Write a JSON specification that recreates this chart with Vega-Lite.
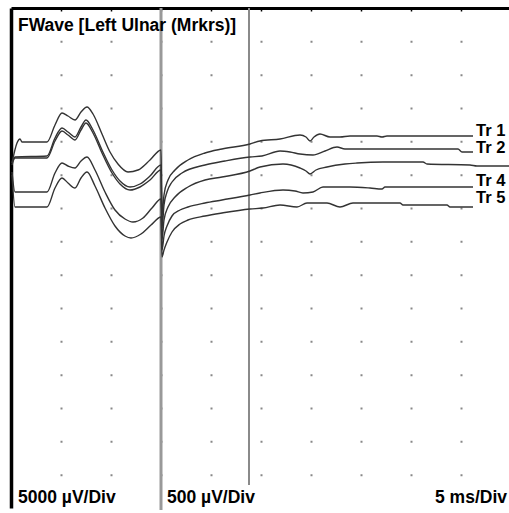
{
  "$schema": "https://vega.github.io/schema/vega-lite/v6.json",
  "width": 498,
  "height": 500,
  "autosize": {"type": "none"},
  "padding": {"left": 11, "top": 8, "right": 0, "bottom": 5},
  "background": "white",
  "config": {"view": {"stroke": null}},
  "layer": [
    {
      "data": {"values": [{"ms": 15.0, "y1": 0, "y2": 15.06}]},
      "mark": {"type": "rule", "stroke": "#999999", "strokeWidth": 3},
      "encoding": {
        "x": {
          "field": "ms", "type": "quantitative", "title": null,
          "scale": {"domain": [0, 49.8], "nice": false, "zero": false},
          "axis": {
            "orient": "top", "values": [5, 10, 15, 20, 25, 30, 35, 40, 45],
            "labels": false, "title": null,
            "domain": true, "domainColor": "#000000", "domainWidth": 3,
            "ticks": true, "tickSize": -3, "tickColor": "#000000", "tickWidth": 1.5,
            "grid": true, "gridColor": "#888888", "gridWidth": 2,
            "gridDash": [1, 31.333, 2, 31.333, 2, 31.333, 2, 31.333, 2, 31.333, 2, 31.333, 2, 31.333, 2, 31.333, 2, 31.333, 2, 31.333, 2, 31.333, 2, 31.333, 2, 31.333, 2, 31.333, 2, 100]
          }
        },
        "y": {
          "field": "y1", "type": "quantitative", "title": null,
          "scale": {"domain": [0, 15], "reverse": true, "nice": false, "zero": false},
          "axis": {
            "orient": "left", "labels": false, "title": null, "ticks": false, "grid": false,
            "domain": true, "domainColor": "#000000", "domainWidth": 3.5
          }
        },
        "y2": {"field": "y2"}
      }
    },
    {
      "data": {"values": [{"ms": 23.8, "y1": 0, "y2": 14.31}]},
      "mark": {"type": "rule", "stroke": "#8a8a8a", "strokeWidth": 2},
      "encoding": {
        "x": {"field": "ms", "type": "quantitative", "title": null},
        "y": {"field": "y1", "type": "quantitative", "title": null},
        "y2": {"field": "y2"}
      }
    },
    {
      "data": {"values": [
        {"trace":"A","ms":0.1,"div":4.65},{"trace":"A","ms":0.6,"div":4.05},{"trace":"A","ms":0.9,"div":3.93},{"trace":"A","ms":1.1,"div":4.02},{"trace":"A","ms":3.6,"div":4.02},{"trace":"A","ms":4.4,"div":3.51},{"trace":"A","ms":5.1,"div":3.15},{"trace":"A","ms":5.7,"div":3.24},{"trace":"A","ms":6.4,"div":3.36},{"trace":"A","ms":7.0,"div":3.12},{"trace":"A","ms":7.6,"div":2.97},{"trace":"A","ms":8.2,"div":3.18},{"trace":"A","ms":9.1,"div":3.78},{"trace":"A","ms":9.9,"div":4.32},{"trace":"A","ms":10.7,"div":4.68},{"trace":"A","ms":11.7,"div":4.92},{"trace":"A","ms":12.7,"div":4.86},{"trace":"A","ms":13.9,"div":4.56},{"trace":"A","ms":15.0,"div":4.26},
        {"trace":"A","ms":15.1,"div":6.21},{"trace":"A","ms":15.3,"div":5.61},{"trace":"A","ms":15.7,"div":5.16},{"trace":"A","ms":16.4,"div":4.86},{"trace":"A","ms":17.7,"div":4.56},{"trace":"A","ms":19.4,"div":4.35},{"trace":"A","ms":21.1,"div":4.23},{"trace":"A","ms":23.9,"div":4.08},
        {"trace":"A","ms":24.9,"div":3.99},{"trace":"A","ms":26.9,"div":3.93},{"trace":"A","ms":28.9,"div":3.81},{"trace":"A","ms":29.5,"div":3.87},{"trace":"A","ms":29.9,"div":3.99},{"trace":"A","ms":30.3,"div":3.87},{"trace":"A","ms":30.9,"div":3.78},{"trace":"A","ms":31.9,"div":3.87},{"trace":"A","ms":32.9,"div":3.87},{"trace":"A","ms":33.9,"div":3.84},{"trace":"A","ms":35.6,"div":3.84},{"trace":"A","ms":36.6,"div":3.84},{"trace":"A","ms":37.1,"div":3.87},{"trace":"A","ms":37.6,"div":3.84},{"trace":"A","ms":46.2,"div":3.84},

        {"trace":"B","ms":0.1,"div":4.65},{"trace":"B","ms":0.4,"div":4.47},{"trace":"B","ms":3.6,"div":4.44},{"trace":"B","ms":4.4,"div":3.90},{"trace":"B","ms":5.1,"div":3.60},{"trace":"B","ms":5.7,"div":3.72},{"trace":"B","ms":6.4,"div":3.87},{"trace":"B","ms":7.0,"div":3.57},{"trace":"B","ms":7.5,"div":3.36},{"trace":"B","ms":8.2,"div":3.66},{"trace":"B","ms":9.1,"div":4.26},{"trace":"B","ms":10.1,"div":4.86},{"trace":"B","ms":10.9,"div":5.19},{"trace":"B","ms":11.9,"div":5.37},{"trace":"B","ms":12.9,"div":5.28},{"trace":"B","ms":13.9,"div":5.04},{"trace":"B","ms":15.0,"div":4.71},
        {"trace":"B","ms":15.1,"div":6.60},{"trace":"B","ms":15.3,"div":5.91},{"trace":"B","ms":15.6,"div":5.52},{"trace":"B","ms":16.1,"div":5.22},{"trace":"B","ms":17.1,"div":4.95},{"trace":"B","ms":19.4,"div":4.71},{"trace":"B","ms":21.4,"div":4.59},{"trace":"B","ms":23.9,"div":4.47},
        {"trace":"B","ms":25.1,"div":4.44},{"trace":"B","ms":26.9,"div":4.29},{"trace":"B","ms":27.9,"div":4.32},{"trace":"B","ms":28.9,"div":4.38},{"trace":"B","ms":30.2,"div":4.41},{"trace":"B","ms":31.4,"div":4.29},{"trace":"B","ms":32.6,"div":4.17},{"trace":"B","ms":33.4,"div":4.23},{"trace":"B","ms":36.9,"div":4.23},{"trace":"B","ms":44.7,"div":4.23},{"trace":"B","ms":45.1,"div":4.32},{"trace":"B","ms":46.2,"div":4.32},

        {"trace":"C","ms":0.1,"div":4.71},{"trace":"C","ms":0.4,"div":4.50},{"trace":"C","ms":3.6,"div":4.50},{"trace":"C","ms":4.4,"div":3.99},{"trace":"C","ms":5.1,"div":3.69},{"trace":"C","ms":5.7,"div":3.81},{"trace":"C","ms":6.4,"div":3.96},{"trace":"C","ms":7.0,"div":3.66},{"trace":"C","ms":7.5,"div":3.45},{"trace":"C","ms":8.2,"div":3.75},{"trace":"C","ms":9.1,"div":4.35},{"trace":"C","ms":10.1,"div":4.95},{"trace":"C","ms":10.9,"div":5.28},{"trace":"C","ms":11.9,"div":5.46},{"trace":"C","ms":12.9,"div":5.37},{"trace":"C","ms":13.9,"div":5.16},{"trace":"C","ms":15.0,"div":4.86},
        {"trace":"C","ms":15.1,"div":6.96},{"trace":"C","ms":15.3,"div":6.36},{"trace":"C","ms":15.7,"div":5.97},{"trace":"C","ms":16.4,"div":5.67},{"trace":"C","ms":17.7,"div":5.37},{"trace":"C","ms":19.4,"div":5.16},{"trace":"C","ms":21.1,"div":5.07},{"trace":"C","ms":23.9,"div":4.89},
        {"trace":"C","ms":24.9,"div":4.77},{"trace":"C","ms":27.2,"div":4.68},{"trace":"C","ms":28.9,"div":4.80},{"trace":"C","ms":29.5,"div":4.89},{"trace":"C","ms":29.9,"div":4.98},{"trace":"C","ms":30.5,"div":4.86},{"trace":"C","ms":31.6,"div":4.77},{"trace":"C","ms":33.4,"div":4.68},{"trace":"C","ms":34.6,"div":4.65},{"trace":"C","ms":37.2,"div":4.62},{"trace":"C","ms":41.2,"div":4.62},{"trace":"C","ms":41.6,"div":4.68},{"trace":"C","ms":45.9,"div":4.71},{"trace":"C","ms":46.6,"div":4.74},{"trace":"C","ms":49.8,"div":4.74},

        {"trace":"D","ms":0.1,"div":4.92},{"trace":"D","ms":0.4,"div":5.52},{"trace":"D","ms":3.6,"div":5.52},{"trace":"D","ms":4.4,"div":4.95},{"trace":"D","ms":5.1,"div":4.65},{"trace":"D","ms":5.7,"div":4.74},{"trace":"D","ms":6.4,"div":4.80},{"trace":"D","ms":7.0,"div":4.59},{"trace":"D","ms":7.6,"div":4.47},{"trace":"D","ms":8.4,"div":4.86},{"trace":"D","ms":9.4,"div":5.52},{"trace":"D","ms":10.4,"div":6.06},{"trace":"D","ms":11.4,"div":6.33},{"trace":"D","ms":12.2,"div":6.42},{"trace":"D","ms":13.2,"div":6.30},{"trace":"D","ms":14.1,"div":6.00},{"trace":"D","ms":15.0,"div":5.73},
        {"trace":"D","ms":15.1,"div":7.26},{"trace":"D","ms":15.3,"div":6.84},{"trace":"D","ms":15.6,"div":6.54},{"trace":"D","ms":16.1,"div":6.24},{"trace":"D","ms":16.9,"div":6.06},{"trace":"D","ms":17.7,"div":5.97},{"trace":"D","ms":19.4,"div":5.85},{"trace":"D","ms":21.1,"div":5.76},{"trace":"D","ms":23.9,"div":5.61},
        {"trace":"D","ms":24.9,"div":5.55},{"trace":"D","ms":27.2,"div":5.46},{"trace":"D","ms":28.4,"div":5.49},{"trace":"D","ms":29.2,"div":5.55},{"trace":"D","ms":30.2,"div":5.52},{"trace":"D","ms":31.2,"div":5.37},{"trace":"D","ms":33.9,"div":5.37},{"trace":"D","ms":35.9,"div":5.40},{"trace":"D","ms":37.1,"div":5.43},{"trace":"D","ms":37.4,"div":5.37},{"trace":"D","ms":46.2,"div":5.37},

        {"trace":"E","ms":0.1,"div":5.01},{"trace":"E","ms":0.4,"div":5.97},{"trace":"E","ms":3.6,"div":5.97},{"trace":"E","ms":4.4,"div":5.40},{"trace":"E","ms":5.1,"div":5.10},{"trace":"E","ms":5.7,"div":5.25},{"trace":"E","ms":6.4,"div":5.40},{"trace":"E","ms":7.0,"div":5.10},{"trace":"E","ms":7.6,"div":4.92},{"trace":"E","ms":8.4,"div":5.34},{"trace":"E","ms":9.4,"div":6.00},{"trace":"E","ms":10.4,"div":6.54},{"trace":"E","ms":11.4,"div":6.84},{"trace":"E","ms":12.0,"div":6.90},{"trace":"E","ms":13.0,"div":6.78},{"trace":"E","ms":14.0,"div":6.51},{"trace":"E","ms":15.0,"div":6.27},
        {"trace":"E","ms":15.1,"div":7.47},{"trace":"E","ms":15.3,"div":7.26},{"trace":"E","ms":15.6,"div":7.02},{"trace":"E","ms":16.1,"div":6.72},{"trace":"E","ms":16.9,"div":6.48},{"trace":"E","ms":17.7,"div":6.36},{"trace":"E","ms":19.4,"div":6.24},{"trace":"E","ms":21.1,"div":6.15},{"trace":"E","ms":23.9,"div":6.03},
        {"trace":"E","ms":25.2,"div":6.00},{"trace":"E","ms":26.9,"div":5.91},{"trace":"E","ms":28.6,"div":5.97},{"trace":"E","ms":29.6,"div":5.85},{"trace":"E","ms":31.6,"div":5.85},{"trace":"E","ms":32.9,"div":5.97},{"trace":"E","ms":34.2,"div":5.85},{"trace":"E","ms":37.2,"div":5.85},{"trace":"E","ms":38.9,"div":5.85},{"trace":"E","ms":39.2,"div":5.91},{"trace":"E","ms":43.6,"div":5.91},{"trace":"E","ms":43.9,"div":5.97},{"trace":"E","ms":46.2,"div":5.97}
      ]},
      "mark": {"type": "line", "stroke": "#333333", "strokeWidth": 1.4, "interpolate": "monotone"},
      "encoding": {
        "x": {"field": "ms", "type": "quantitative", "title": null},
        "y": {"field": "div", "type": "quantitative", "title": null},
        "detail": {"field": "trace", "type": "nominal"}
      }
    },
    {
      "data": {"values": [
        {"label": "FWave [Left Ulnar (Mrkrs)]", "ms": 0.7, "div": 0.69},
        {"label": "5000 µV/Div", "ms": 0.7, "div": 14.85},
        {"label": "500 µV/Div", "ms": 15.6, "div": 14.85},
        {"label": "5 ms/Div", "ms": 42.4, "div": 14.85}
      ]},
      "mark": {"type": "text", "align": "left", "baseline": "alphabetic", "font": "Liberation Sans", "fontWeight": "bold", "fontSize": 17.5, "color": "#000000"},
      "encoding": {
        "x": {"field": "ms", "type": "quantitative", "title": null},
        "y": {"field": "div", "type": "quantitative", "title": null},
        "text": {"field": "label", "type": "nominal"}
      }
    },
    {
      "data": {"values": [
        {"label": "Tr 1", "ms": 46.5, "div": 3.825},
        {"label": "Tr 2", "ms": 46.5, "div": 4.335},
        {"label": "Tr 4", "ms": 46.5, "div": 5.34},
        {"label": "Tr 5", "ms": 46.5, "div": 5.85}
      ]},
      "mark": {"type": "text", "align": "left", "baseline": "alphabetic", "font": "Liberation Sans", "fontWeight": "bold", "fontSize": 16.5, "color": "#000000"},
      "encoding": {
        "x": {"field": "ms", "type": "quantitative", "title": null},
        "y": {"field": "div", "type": "quantitative", "title": null},
        "text": {"field": "label", "type": "nominal"}
      }
    }
  ]
}
